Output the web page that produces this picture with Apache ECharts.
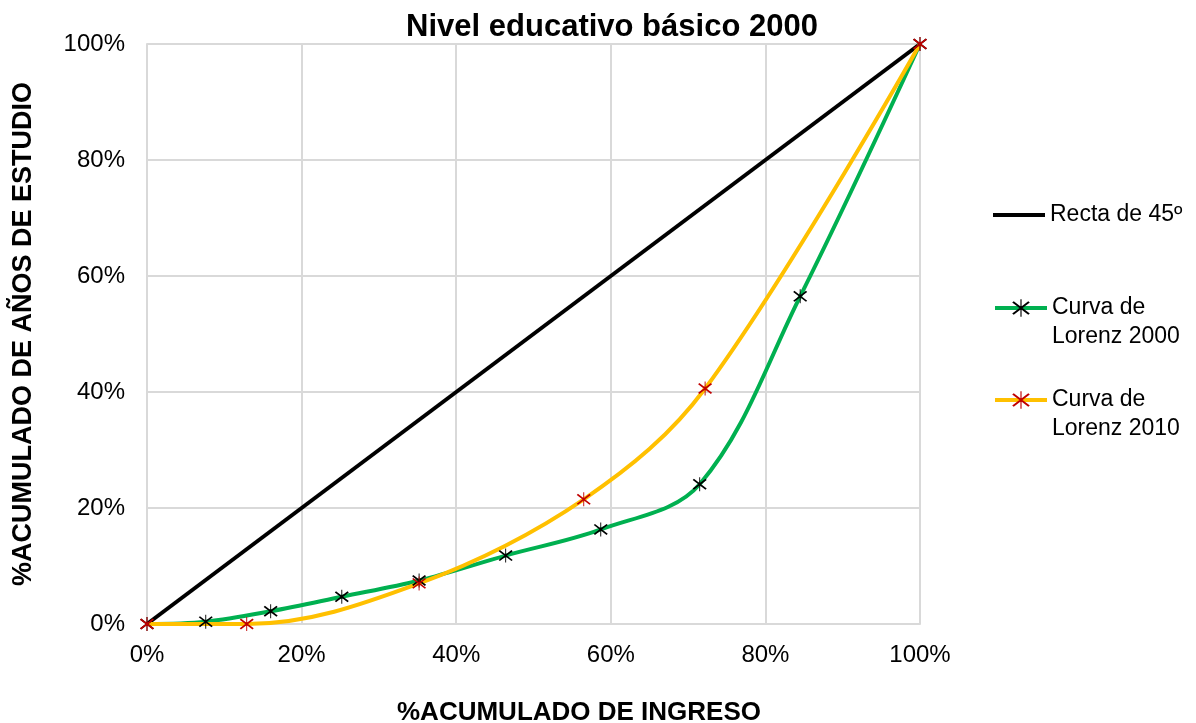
<!DOCTYPE html>
<html>
<head>
<meta charset="utf-8">
<script src="https://cdn.jsdelivr.net/npm/echarts@6/dist/echarts.min.js"></script>
<style>html,body{margin:0;padding:0;background:#fff}#c{width:1196px;height:723px}</style>
</head>
<body>
<div id="c"></div>
<script>
const titleText = 'Nivel educativo básico 2000';
const xName = '%ACUMULADO DE INGRESO';
const yName = '%ACUMULADO DE AÑOS DE ESTUDIO';
const seriesNames = ['Recta de 45º', 'Curva de Lorenz 2000', 'Curva de Lorenz 2010'];
const rectaX = [0, 100];
const rectaY = [0, 100];
const lorenz2000X = [0, 7.6, 16.0, 25.2, 35.2, 46.4, 58.7, 71.5, 84.5, 100];
const lorenz2000Y = [0, 0.4, 2.2, 4.7, 7.5, 11.8, 16.3, 24.1, 56.5, 100];
const lorenz2010X = [0, 12.9, 35.2, 56.5, 72.2, 100];
const lorenz2010Y = [0, 0, 7.0, 21.5, 40.6, 100];
const axisTicks = [0, 20, 40, 60, 80, 100];

const pair = (xs, ys) => xs.map((x, i) => [x, ys[i]]);
const star = 'path://M47 0L53 0L53 100L47 100ZM4 19L12 11L96 81L88 89ZM88 11L96 19L12 89L4 81Z';
const font = 'Liberation Sans, Arial, sans-serif';

const chart = echarts.init(document.getElementById('c'));
const legendBase = {
  orient: 'vertical', left: 993, padding: 0, itemWidth: 52, itemHeight: 22, itemGap: 0,
  lineStyle: { width: 4 },
  textStyle: { fontFamily: font, fontSize: 23, color: '#000', lineHeight: 29 },
  formatter: n => n === seriesNames[0] ? n : '\n' + n.replace(' Lorenz', '\nLorenz')
};
chart.setOption({
  animation: false,
  title: [
    { text: titleText, left: 607, top: 7, textAlign: 'center',
      textStyle: { fontFamily: font, fontSize: 31, fontWeight: 'bold', color: '#000' } },
    { text: xName, left: 574, top: 695, textAlign: 'center',
      textStyle: { fontFamily: font, fontSize: 26, fontWeight: 'bold', color: '#000' } }
  ],
  legend: [
    Object.assign({}, legendBase, { top: 200.5, itemHeight: 4,
      data: [{ name: seriesNames[0], icon: 'rect', itemStyle: { color: '#000' } }] }),
    Object.assign({}, legendBase, { top: 264.5, data: [seriesNames[1]] }),
    Object.assign({}, legendBase, { top: 356.5, data: [seriesNames[2]] })
  ],
  grid: { left: 147, right: 276, top: 44, bottom: 99 },
  xAxis: {
    type: 'value', min: axisTicks[0], max: axisTicks[axisTicks.length - 1], interval: 20,
    axisLine: { show: true, lineStyle: { color: '#d9d9d9', width: 2 } },
    axisTick: { show: false },
    splitLine: { show: true, lineStyle: { color: '#d9d9d9', width: 2 } },
    axisLabel: { formatter: '{value}%', fontFamily: font, fontSize: 24, color: '#000', margin: 19 }
  },
  yAxis: {
    type: 'value', min: axisTicks[0], max: axisTicks[axisTicks.length - 1], interval: 20,
    name: yName, nameLocation: 'middle', nameGap: 110,
    nameTextStyle: { fontFamily: font, fontSize: 27, fontWeight: 'bold', color: '#000' },
    axisLine: { show: true, lineStyle: { color: '#d9d9d9', width: 2 } },
    axisTick: { show: false },
    splitLine: { show: true, lineStyle: { color: '#d9d9d9', width: 2 } },
    axisLabel: { formatter: '{value}%', fontFamily: font, fontSize: 24, color: '#000', margin: 22 }
  },
  series: [
    { name: seriesNames[0], type: 'line', data: pair(rectaX, rectaY), showSymbol: false, symbol: 'none',
      lineStyle: { color: '#000', width: 4 }, itemStyle: { color: '#000' } },
    { name: seriesNames[1], type: 'line', data: pair(lorenz2000X, lorenz2000Y), smooth: 0.35,
      symbol: star, symbolSize: 14, lineStyle: { color: '#00B050', width: 4 },
      itemStyle: { color: '#000' } },
    { name: seriesNames[2], type: 'line', data: pair(lorenz2010X, lorenz2010Y), smooth: 0.35,
      symbol: star, symbolSize: 14, lineStyle: { color: '#FFC000', width: 4 },
      itemStyle: { color: '#C00000' } }
  ]
});
</script>
</body>
</html>
